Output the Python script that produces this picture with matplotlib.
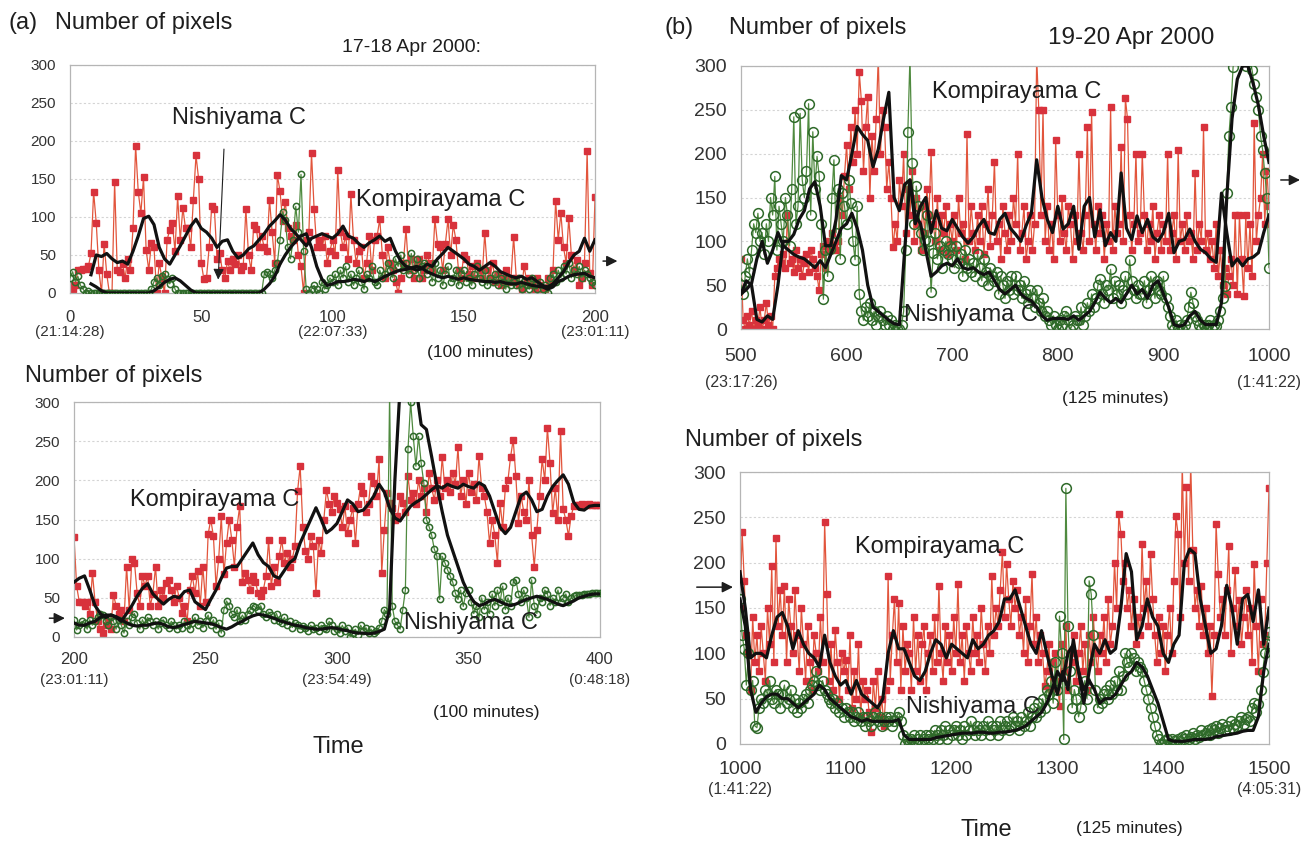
import numpy as np
import matplotlib
matplotlib.use("Agg")
import matplotlib.pyplot as plt

plt.rcParams['font.family'] = ['Liberation Sans', 'DejaVu Sans']

W, H = 1316, 841

# ---------------- (a) upper: 17-18 Apr 2000, 0..200 ----------------
a1_x = np.arange(0, 201)
a1_kompira = [10, 5, 10, 30, 30, 32, 32, 35, 52, 133,
              92, 30, 0, 65, 25, 0, 0, 146, 30, 28,
              38, 20, 45, 30, 85, 194, 133, 105, 152, 57,
              30, 66, 60, 0, 40, 20, 0, 70, 83, 92,
              55, 127, 70, 112, 85, 86, 60, 123, 181, 150,
              40, 18, 20, 60, 115, 111, 45, 53, 30, 20,
              42, 30, 45, 38, 50, 30, 35, 111, 50, 30,
              90, 84, 60, 75, 60, 55, 123, 80, 40, 155,
              134, 95, 120, 86, 75, 70, 90, 50, 35, 0,
              70, 80, 184, 110, 60, 70, 60, 75, 40, 55,
              70, 50, 162, 80, 60, 75, 45, 130, 70, 40,
              55, 60, 20, 40, 75, 30, 70, 75, 97, 50,
              20, 60, 40, 30, 15, 0, 20, 40, 84, 30,
              45, 20, 35, 45, 20, 30, 50, 40, 30, 97,
              65, 60, 30, 65, 97, 50, 90, 70, 30, 20,
              50, 45, 25, 35, 20, 40, 30, 20, 79, 30,
              20, 40, 15, 25, 10, 20, 30, 15, 20, 74,
              20, 10, 5, 35, 15, 20, 10, 5, 20, 10,
              0, 5, 20, 15, 30, 121, 70, 105, 60, 40,
              99, 50, 30, 44, 10, 20, 40, 187, 26, 10,
              126]
a1_nishi = [20, 28, 15, 22, 10, 5, 0, 3, 0, 0,
            0, 0, 0, 0, 0, 0, 0, 0, 0, 0,
            0, 0, 0, 0, 0, 0, 0, 0, 0, 0,
            0, 5, 15, 20, 10, 22, 25, 18, 12, 20,
            5, 0, 0, 0, 0, 0, 0, 0, 0, 0,
            0, 0, 0, 0, 0, 0, 0, 0, 0, 0,
            0, 0, 0, 0, 0, 0, 0, 0, 0, 0,
            0, 0, 0, 0, 25, 28, 25, 20, 30, 40,
            70, 107, 96, 60, 45, 70, 114, 80, 156, 55,
            5, 0, 5, 10, 5, 0, 15, 5, 10, 20,
            15, 25, 10, 30, 20, 35, 15, 25, 10, 20,
            30, 15, 5, 25, 20, 35, 15, 10, 30, 20,
            25, 40, 30, 20, 45, 35, 50, 30, 40, 25,
            52, 30, 45, 20, 35, 40, 25, 30, 15, 40,
            20, 30, 10, 25, 35, 15, 20, 30, 10, 25,
            30, 15, 20, 10, 25, 35, 20, 15, 30, 10,
            20, 15, 25, 10, 20, 15, 5, 20, 10, 15,
            10, 20, 5, 15, 10, 5, 20, 10, 5, 15,
            5, 10, 0, 20, 25, 15, 30, 20, 35, 25,
            40, 20, 30, 25, 35, 20, 30, 25, 20, 15,
            11]
a1_mean_x = np.arange(8, 201, 2)
a1_kompira_mean = [24,
                   50, 48, 52, 45, 40, 42, 38, 55, 75, 98,
                   101, 90, 60, 45, 38, 50, 62, 75, 88, 97,
                   85, 80, 72, 60, 68, 70, 55, 46, 50, 58,
                   62, 70, 78, 88, 95, 103, 96, 85, 78, 70,
                   62, 72, 75, 78, 75, 72, 78, 88, 75, 72,
                   65, 60, 66, 70, 75, 68, 72, 55, 42, 35,
                   33, 30, 32, 38, 35, 45, 52, 60, 55, 50,
                   45, 38, 35, 30, 35, 40, 35, 28, 25, 22,
                   20, 22, 18, 20, 15, 10, 8, 12, 20, 28,
                   40, 50, 55, 72, 55, 70]
a1_nishi_mean = [12,
                 8, 3, 0, 0, 0, 0, 0, 0, 0, 0,
                 0, 3, 8, 14, 18, 20, 16, 10, 4, 0,
                 0, 0, 0, 0, 0, 0, 0, 0, 0, 0,
                 0, 0, 5, 12, 22, 38, 50, 60, 68, 75,
                 78, 60, 35, 18, 10, 12, 15, 15, 16, 18,
                 17, 15, 18, 15, 18, 22, 25, 28, 30, 31,
                 33, 35, 33, 28, 25, 22, 20, 22, 20, 18,
                 20, 18, 17, 16, 15, 15, 14, 15, 13, 12,
                 12, 14, 12, 10, 9, 8, 5, 8, 15, 18,
                 22, 24, 25, 26, 22, 20]

# ---------------- (a) lower: 200..400 ----------------
a2_x = np.arange(200, 401)
a2_kompira = [128, 65, 45, 45, 40, 45, 30, 82, 45, 20,
              10, 5, 15, 20, 10, 54, 40, 30, 35, 20,
              90, 35, 99, 95, 56, 40, 78, 65, 78, 40,
              55, 90, 40, 60, 50, 69, 73, 60, 45, 65,
              50, 31, 39, 20, 60, 78, 56, 84, 40, 90,
              45, 131, 150, 129, 65, 99, 154, 80, 120, 150,
              124, 90, 141, 167, 70, 82, 73, 60, 78, 70,
              56, 52, 60, 78, 124, 65, 90, 70, 103, 124,
              95, 107, 90, 100, 116, 186, 218, 141, 110, 100,
              129, 116, 56, 124, 107, 150, 188, 170, 160, 180,
              171, 163, 140, 167, 133, 150, 165, 120, 170, 193,
              184, 160, 170, 205, 197, 180, 227, 82, 137, 184,
              171, 165, 150, 154, 180, 171, 160, 205, 175, 184,
              170, 200, 180, 190, 160, 210, 190, 175, 200, 180,
              230, 190, 200, 185, 210, 195, 242, 180, 200, 170,
              210, 185, 195, 175, 231, 190, 180, 160, 120, 150,
              130, 95, 171, 140, 190, 200, 230, 252, 205, 146,
              180, 160, 150, 200, 130, 90, 137, 180, 227, 200,
              267, 222, 158, 190, 150, 263, 163, 150, 129, 154,
              167, 168, 168, 170, 168, 168, 170, 168, 168, 168,
              168]
a2_nishi = [22, 9, 15, 20, 18, 10, 22, 15, 20, 25,
            30, 28, 20, 15, 25, 20, 10, 22, 15, 5,
            20, 15, 25, 30, 18, 10, 22, 15, 25, 20,
            15, 20, 10, 18, 22, 15, 12, 20, 15, 10,
            15, 12, 20, 15, 10, 18, 25, 15, 20, 12,
            20, 28, 15, 22, 10, 18, 5, 35, 46, 40,
            30, 25, 35, 20, 28, 22, 30, 35, 40, 38,
            35, 40, 30, 25, 32, 28, 22, 30, 20, 18,
            25, 15, 20, 12, 18, 15, 10, 14, 12, 8,
            15, 10, 12, 8, 15, 12, 10, 20, 15, 8,
            10, 5, 15, 8, 12, 0, 5, 10, 3, 15,
            8, 12, 5, 10, 5, 8, 12, 20, 35, 30,
            310, 40, 20, 15, 10, 35, 60, 240, 300, 256,
            218, 256, 222, 197, 150, 141, 130, 112, 103, 48,
            103, 95, 86, 78, 70, 56, 48, 60, 39, 56,
            60, 45, 30, 40, 25, 50, 35, 45, 30, 55,
            40, 60, 45, 65, 35, 50, 40, 70, 73, 55,
            45, 60, 50, 25, 73, 40, 30, 50, 45, 60,
            55, 40, 50, 45, 60, 45, 50, 55, 45, 50,
            52, 53, 54, 54, 55, 55, 55, 56, 56, 56,
            56]
a2_mean_x = np.arange(200, 401, 2)
a2_kompira_mean = [70, 75, 78, 60, 40, 30, 25, 28, 25, 20,
                   30, 40, 52, 62, 68, 55, 48, 42, 48, 52,
                   50, 58, 60, 45, 40, 35, 48, 60, 75, 88,
                   90, 90, 100, 110, 120, 105, 95, 90, 78, 75,
                   85, 95, 100, 120, 135, 150, 165, 150, 133, 138,
                   145, 160, 175, 170, 160, 162, 170, 180, 195, 185,
                   165, 152, 148, 158, 167, 172, 176, 182, 188, 193,
                   190, 195, 192, 190, 195, 192, 190, 197, 193, 180,
                   160, 140, 132, 140, 160, 180, 185, 175, 160, 163,
                   180, 192, 200, 207, 195, 172, 163, 162, 167, 168,
                   168]
a2_nishi_mean = [18, 15, 15, 18, 20, 25, 28, 28, 26, 22,
                 18, 15, 14, 15, 15, 17, 18, 16, 13, 12,
                 14, 16, 18, 20, 19, 18, 17, 15, 12, 10,
                 13, 17, 20, 24, 27, 29, 28, 26, 24, 21,
                 19, 17, 15, 14, 12, 11, 10, 10, 11, 12,
                 11, 9, 8, 6, 5, 5, 4, 5, 7, 10,
                 35, 200, 320, 320, 320, 320, 271, 265, 230, 193,
                 160, 130, 110, 90, 70, 56, 45, 40, 42, 46,
                 48, 45, 42, 40, 42, 45, 48, 50, 52, 50,
                 48, 45, 42, 40, 43, 46, 50, 52, 54, 55,
                 55]

# ---------------- (b) upper: 19-20 Apr 2000, 500..1000 ----------------
b1_x = np.arange(500, 1001, 2)
b1_kompira = [80, 10, 0, 15, 5, 20, 0, 10, 5, 25,
              0, 10, 30, 5, 15, 0, 60, 70, 80, 75,
              85, 70, 130, 75, 80, 65, 90, 70, 80, 60,
              75, 85, 65, 90, 80, 70, 60, 45, 85, 95,
              70, 100, 90, 110, 95, 90, 100, 150, 130, 175,
              210, 160, 230, 190, 250, 200, 293, 260, 180, 230,
              265, 150, 220, 180, 240, 310, 200, 250, 230, 160,
              190, 150, 93, 120, 100, 170, 140, 200, 110, 160,
              130, 180, 100, 150, 120, 90, 140, 110, 160, 130,
              202, 120, 100, 150, 90, 130, 110, 140, 85, 120,
              100, 130, 90, 150, 110, 120, 80, 223, 100, 140,
              110, 90, 130, 100, 140, 85, 120, 160, 95, 130,
              190, 100, 120, 80, 140, 110, 90, 130, 100, 150,
              120, 200, 90, 110, 140, 80, 100, 130, 90, 120,
              310, 250, 130, 250, 100, 140, 90, 120, 80, 216,
              130, 100, 150, 110, 90, 140, 120, 80, 130, 100,
              200, 110, 90, 130, 230, 100, 248, 120, 90, 140,
              110, 130, 80, 120, 100, 253, 90, 140, 110, 120,
              208, 100, 263, 240, 130, 90, 120, 200, 100, 110,
              200, 130, 90, 120, 100, 140, 80, 110, 130, 90,
              120, 100, 200, 90, 110, 130, 80, 204, 100, 120,
              90, 130, 100, 110, 80, 178, 90, 120, 100, 230,
              90, 110, 80, 100, 70, 120, 60, 90, 50, 70,
              40, 60, 80, 50, 130, 40, 130, 80, 38, 130,
              70, 120, 60, 235, 100, 130, 150, 200, 120, 180,
              140]
b1_nishi = [50, 40, 60, 80, 65, 90, 120, 110, 132, 100,
            110, 85, 120, 100, 150, 130, 174, 90, 140, 120,
            100, 150, 130, 95, 160, 242, 120, 140, 246, 170,
            150, 180, 257, 130, 225, 160, 197, 175, 120, 34,
            90, 60, 91, 150, 193, 110, 160, 80, 155, 140,
            120, 170, 144, 100, 79, 140, 40, 20, 10, 25,
            15, 30, 10, 20, 5, 15, 20, 10, 5, 15,
            5, 10, 0, 5, 0, 0, 5, 20, 90, 225,
            310, 189, 120, 163, 140, 110, 90, 102, 130, 100,
            42, 87, 110, 80, 95, 70, 90, 100, 85, 95,
            80, 70, 95, 75, 85, 60, 90, 70, 80, 65,
            75, 60, 85, 70, 55, 80, 65, 50, 70, 60,
            55, 65, 40, 60, 50, 35, 55, 45, 60, 40,
            60, 45, 50, 35, 55, 40, 30, 45, 35, 25,
            45, 30, 20, 35, 15, 20, 10, 5, 15, 4,
            0, 10, 5, 15, 20, 10, 0, 5, 15, 10,
            10, 25, 5, 15, 30, 20, 40, 25, 35, 50,
            57, 40, 30, 50, 45, 68, 35, 55, 40, 50,
            30, 45, 60, 40, 79, 55, 45, 35, 50, 40,
            40, 55, 30, 45, 60, 50, 35, 55, 45, 40,
            60, 35, 25, 15, 5, 0, 10, 0, 5, 0,
            5, 10, 25, 42, 30, 15, 10, 5, 0, 5,
            0, 5, 10, 0, 5, 3, 10, 20, 35, 49,
            155, 220, 253, 299, 310, 310, 310, 310, 310, 300,
            310, 310, 295, 280, 265, 250, 220, 204, 178, 150,
            70]
b1_mean_x = np.arange(500, 1001, 5)
b1_kompira_mean = [40, 55, 50, 11, 8, 15, 11, 50, 100, 100,
                   108, 125, 135, 160, 168, 140, 95, 95, 125, 175,
                   170, 200, 231, 222, 215, 185, 205, 240, 270, 150,
                   135, 165, 170, 120, 140, 150, 110, 135, 115, 112,
                   125, 115, 105, 98, 105, 117, 125, 110, 108, 125,
                   132, 115, 108, 100, 118, 132, 193, 150, 125, 110,
                   140, 114, 120, 140, 91, 140, 150, 105, 136, 95,
                   110, 100, 178, 115, 102, 129, 110, 125, 105, 100,
                   110, 132, 87, 100, 102, 114, 100, 91, 87, 80,
                   76, 155, 110, 72, 80, 72, 80, 82, 87, 110,
                   130]
b1_nishi_mean = [40, 45, 52, 80, 100, 75, 90, 110, 95, 90,
                 85, 82, 80, 75, 70, 78, 70, 85, 100, 115,
                 120, 132, 115, 90, 50, 25, 20, 15, 10, 6,
                 5, 90, 170, 130, 120, 90, 60, 65, 72, 75,
                 72, 80, 70, 68, 70, 65, 62, 65, 55, 45,
                 40, 45, 50, 40, 35, 32, 25, 15, 10, 12,
                 12, 12, 11, 15, 10, 15, 20, 30, 42, 35,
                 30, 35, 30, 40, 50, 40, 45, 35, 50, 55,
                 40, 25, 5, 3, 5, 15, 20, 10, 5, 5,
                 5, 30, 150, 240, 285, 300, 300, 280, 255, 220,
                 190]

# ---------------- (b) lower: 1000..1500 ----------------
b2_x = np.arange(1000, 1501, 2)
b2_kompira = [150, 234, 180, 120, 100, 60, 140, 90, 120, 80,
              130, 100, 70, 150, 110, 196, 90, 227, 130, 170,
              120, 174, 90, 160, 130, 100, 170, 120, 80, 150,
              110, 70, 130, 90, 60, 120, 100, 80, 140, 90,
              245, 165, 70, 110, 60, 126, 90, 50, 100, 80,
              93, 60, 120, 40, 80, 50, 110, 30, 70, 50,
              60, 35, 13, 70, 40, 80, 30, 50, 20, 60,
              185, 70, 120, 160, 90, 155, 60, 130, 80, 110,
              100, 60, 140, 80, 120, 70, 110, 130, 60, 100,
              120, 80, 140, 90, 174, 100, 70, 130, 90, 120,
              80, 140, 100, 176, 90, 120, 70, 130, 100, 80,
              140, 100, 120, 90, 150, 110, 80, 130, 100, 185,
              120, 150, 130, 170, 212, 140, 199, 160, 130, 180,
              150, 170, 120, 140, 100, 160, 90, 130, 188, 110,
              140, 90, 120, 100, 64, 80, 110, 60, 90, 100,
              70, 42, 110, 80, 130, 60, 100, 90, 120, 70,
              100, 130, 80, 110, 60, 120, 90, 140, 100, 80,
              120, 100, 140, 90, 160, 110, 130, 200, 150, 254,
              232, 180, 200, 150, 170, 130, 160, 110, 140, 120,
              221, 150, 180, 130, 210, 160, 120, 90, 140, 100,
              130, 80, 120, 150, 100, 180, 251, 232, 140, 310,
              200, 283, 180, 310, 214, 150, 170, 130, 174, 120,
              150, 100, 130, 53, 120, 243, 188, 140, 160, 120,
              170, 218, 100, 150, 192, 130, 159, 110, 140, 170,
              120, 150, 90, 199, 130, 80, 160, 110, 120, 200,
              282]
b2_nishi = [160, 120, 105, 65, 100, 60, 70, 20, 18, 40,
            50, 45, 60, 55, 70, 50, 45, 60, 55, 40,
            55, 65, 45, 50, 60, 40, 50, 35, 45, 40,
            50, 55, 45, 60, 65, 70, 80, 65, 60, 70,
            60, 55, 50, 45, 50, 40, 45, 35, 40, 30,
            40, 35, 30, 35, 25, 30, 35, 25, 30, 20,
            30, 25, 20, 30, 35, 25, 30, 20, 25, 30,
            25, 30, 20, 25, 30, 35, 25, 10, 0, 5,
            0, 5, 10, 0, 5, 10, 0, 5, 10, 5,
            10, 5, 15, 10, 5, 15, 10, 20, 5, 15,
            10, 15, 20, 10, 15, 5, 20, 10, 15, 25,
            15, 10, 20, 15, 10, 20, 15, 25, 10, 20,
            15, 20, 10, 25, 15, 20, 25, 15, 20, 30,
            20, 25, 15, 30, 20, 25, 35, 20, 30, 40,
            30, 45, 35, 50, 40, 60, 55, 70, 45, 90,
            60, 141, 100, 5, 282, 130, 80, 40, 60, 50,
            30, 40, 60, 70, 50, 180, 165, 120, 60, 40,
            50, 45, 55, 60, 50, 65, 55, 70, 60, 80,
            60, 75, 100, 90, 85, 100, 95, 80, 90, 85,
            80, 70, 60, 50, 40, 30, 20, 10, 5, 0,
            0, 3, 5, 0, 5, 3, 0, 5, 3, 8,
            5, 10, 5, 8, 12, 5, 10, 8, 15, 10,
            12, 15, 10, 18, 15, 20, 12, 18, 22, 15,
            20, 15, 25, 18, 22, 20, 25, 30, 22, 28,
            30, 25, 40, 45, 35, 44, 60, 79, 100, 110,
            123]
b2_mean_x = np.arange(1000, 1501, 5)
b2_kompira_mean = [190, 150, 95, 100, 100, 95, 120, 140, 145, 130,
                   105, 125, 110, 100, 95, 85, 120, 90, 75, 65,
                   70, 55, 70, 55, 50, 45, 40, 50, 100, 125,
                   105, 105, 90, 75, 70, 80, 100, 115, 110, 95,
                   110, 105, 100, 95, 115, 105, 110, 120, 125, 135,
                   160, 160, 170, 150, 130, 110, 100, 125, 100, 75,
                   55, 80, 60, 115, 80, 45, 80, 110, 100, 115,
                   100, 105, 150, 210, 190, 115, 130, 160, 140, 130,
                   100, 90, 110, 120, 200, 215, 210, 160, 130, 100,
                   105, 130, 175, 150, 110, 160, 165, 135, 170, 110,
                   150]
b2_nishi_mean = [160, 130, 60, 35, 45, 52, 55, 55, 50, 50,
                 45, 40, 45, 50, 55, 65, 60, 50, 45, 40,
                 35, 30, 28, 25, 27, 25, 25, 25, 25, 25,
                 27, 10, 5, 5, 5, 5, 5, 7, 8, 9,
                 10, 11, 12, 12, 12, 13, 13, 12, 12, 13,
                 13, 14, 15, 17, 20, 25, 30, 35, 45, 60,
                 80, 70, 100, 110, 80, 60, 70, 60, 45, 50,
                 50, 55, 65, 75, 80, 90, 85, 75, 60, 45,
                 25, 5, 3, 3, 3, 4, 5, 5, 5, 6,
                 8, 9, 10, 11, 12, 14, 15, 15, 30, 80,
                 110]

RED = '#d8323c'
RED_LINE = '#e2553c'
GREEN_EDGE = '#2f6a2a'
GREEN_LINE = '#4f8a3f'
INK = '#1e1e1e'

fig = plt.figure(figsize=(W / 100, H / 100), dpi=100)


def axes_px(x0, y0, x1, y1):
    return fig.add_axes([x0 / W, 1 - y1 / H, (x1 - x0) / W, (y1 - y0) / H])


def ftext(x, y, s, size, ha='center'):
    fig.text(x / W, 1 - y / H, s, fontsize=size, ha=ha, va='center', color=INK)


def panel(ax, x, red, green, mx, kmean, nmean, xlim, xticks, ms_r, ms_g,
          ytick_size, xtick_size, xpad):
    ax.plot(x, red, color=RED_LINE, lw=0.9, marker='s', ms=ms_r,
            mfc=RED, mec=RED, zorder=2)
    ax.plot(x, green, color=GREEN_LINE, lw=0.9, marker='o', ms=ms_g,
            mfc='none', mec=GREEN_EDGE, mew=1.1, zorder=3)
    ax.plot(mx, kmean, color='#111111', lw=2.3, zorder=4)
    ax.plot(mx, nmean, color='#111111', lw=2.3, zorder=4)
    ax.set_xlim(*xlim)
    ax.set_ylim(0, 300)
    ax.set_xticks(xticks)
    ax.set_yticks(range(0, 301, 50))
    ax.yaxis.grid(True, color='#d4d4d4', lw=0.8, ls=(0, (2, 2)))
    ax.set_axisbelow(True)
    for s in ax.spines.values():
        s.set_color('#b5b5b5')
        s.set_linewidth(0.9)
    ax.tick_params(axis='y', length=0, pad=10, labelsize=ytick_size, labelcolor='#333333')
    ax.tick_params(axis='x', length=0, pad=xpad, labelsize=xtick_size, labelcolor='#333333')


def arrow(ax, x0, x1, y):
    ax.annotate('', xy=(x1, y), xytext=(x0, y), xycoords=('axes fraction', 'data'),
                textcoords=('axes fraction', 'data'), annotation_clip=False,
                arrowprops=dict(arrowstyle='-|>', color=INK, lw=1.1, mutation_scale=16))


# (a) upper
ax1 = axes_px(70, 65, 595, 293)
panel(ax1, a1_x, a1_kompira, a1_nishi, a1_mean_x, a1_kompira_mean, a1_nishi_mean,
      (0, 200), range(0, 201, 50), 4, 4.5, 11, 12, 12)
for xv, s in [(0, '(21:14:28)'), (100, '(22:07:33)'), (200, '(23:01:11)')]:
    ax1.text(xv, -0.171, s, transform=ax1.get_xaxis_transform(), ha='center',
             va='center', fontsize=11, color='#333333')
ax1.annotate('', xy=(56.4, 14), xytext=(58.7, 193),
             arrowprops=dict(arrowstyle='-|>', color=INK, lw=0.8, mutation_scale=16))
arrow(ax1, 1.01, 1.048, 42)

# (a) lower
ax2 = axes_px(74, 402, 600, 637)
panel(ax2, a2_x, a2_kompira, a2_nishi, a2_mean_x, a2_kompira_mean, a2_nishi_mean,
      (200, 400), range(200, 401, 50), 4, 4.5, 11, 12, 11)
for xv, s in [(200, '(23:01:11)'), (300, '(23:54:49)'), (400, '(0:48:18)')]:
    ax2.text(xv, -0.183, s, transform=ax2.get_xaxis_transform(), ha='center',
             va='center', fontsize=11, color='#333333')
arrow(ax2, -0.052, -0.012, 24)

# (b) upper
ax3 = axes_px(741, 66, 1269, 329)
panel(ax3, b1_x, b1_kompira, b1_nishi, b1_mean_x, b1_kompira_mean, b1_nishi_mean,
      (500, 1000), range(500, 1001, 100), 5, 7, 14, 14, 13.5)
for xv, s in [(500, '(23:17:26)'), (1000, '(1:41:22)')]:
    ax3.text(xv, -0.205, s, transform=ax3.get_xaxis_transform(), ha='center',
             va='center', fontsize=11.5, color='#333333')
arrow(ax3, 1.017, 1.064, 170)

# (b) lower
ax4 = axes_px(740, 472, 1269, 744)
panel(ax4, b2_x, b2_kompira, b2_nishi, b2_mean_x, b2_kompira_mean, b2_nishi_mean,
      (1000, 1500), range(1000, 1501, 100), 5, 7, 14, 14, 12)
for xv, s in [(1000, '(1:41:22)'), (1500, '(4:05:31)')]:
    ax4.text(xv, -0.169, s, transform=ax4.get_xaxis_transform(), ha='center',
             va='center', fontsize=11.5, color='#333333')
arrow(ax4, -0.087, -0.008, 173)

# headers and labels
ftext(8, 23, '(a)', 17, ha='left')
ftext(55, 23, 'Number of pixels', 17, ha='left')
ftext(412, 47, '17-18 Apr 2000:', 14)
ftext(480, 352, '(100 minutes)', 12.5)
ftext(25, 376, 'Number of pixels', 17, ha='left')
ftext(486, 713, '(100 minutes)', 12.5)
ftext(338, 747, 'Time', 17)

ftext(665, 28, '(b)', 17, ha='left')
ftext(729, 28, 'Number of pixels', 17, ha='left')
ftext(1131, 38, '19-20 Apr 2000', 17.5)
ftext(1115, 398, '(125 minutes)', 12.5)
ftext(685, 440, 'Number of pixels', 17, ha='left')
ftext(986, 830, 'Time', 17)
ftext(1129, 828, '(125 minutes)', 12.5)

# series labels
ftext(239, 118, 'Nishiyama C', 17)
ftext(441, 200, 'Kompirayama C', 17)
ftext(215, 500, 'Kompirayama C', 17)
ftext(471, 623, 'Nishiyama C', 17)
ftext(1017, 92, 'Kompirayama C', 17)
ftext(971, 315, 'Nishiyama C', 17)
ftext(940, 547, 'Kompirayama C', 17)
ftext(973, 707, 'Nishiyama C', 17)

fig.savefig('out.png', dpi=100)
